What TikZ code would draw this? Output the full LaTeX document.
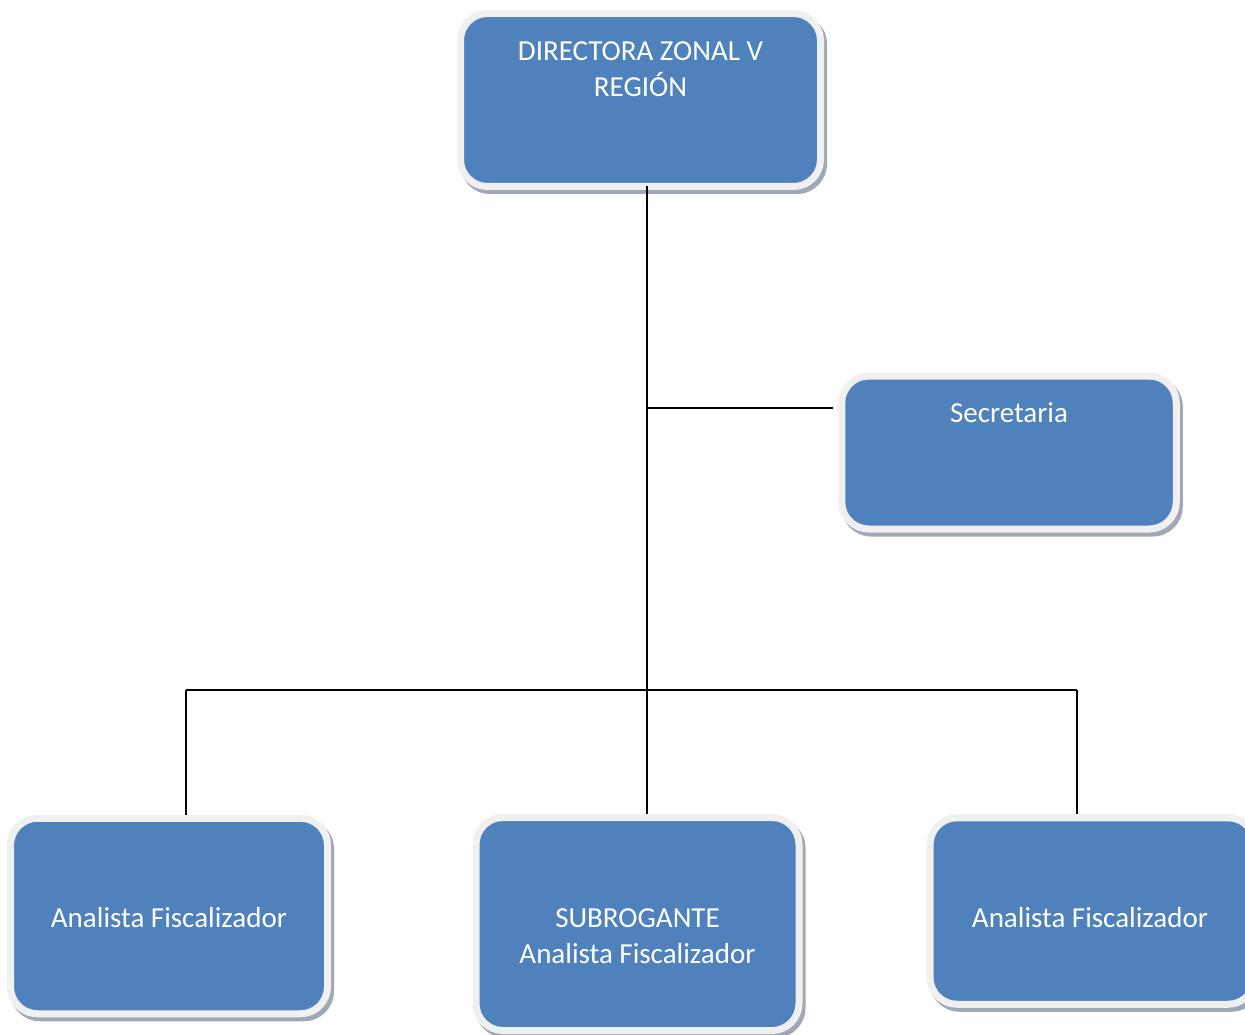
\documentclass[tikz,border=0pt]{standalone}
\usepackage{fontspec}
\setmainfont{Carlito}
\usetikzlibrary{calc,backgrounds}
\pgfdeclarelayer{bottom}
\pgfsetlayers{bottom,background,main}
\definecolor{boxblue}{RGB}{79,129,189}
\definecolor{rimgray}{RGB}{240,240,240}
\definecolor{shadowc}{RGB}{160,168,182}
\tikzset{
  orgbox/.style={draw=rimgray, line width=7pt, fill=boxblue, rounded corners=27pt, inner sep=0pt},
  txt/.style={text=white, font=\fontsize{29}{36}\selectfont, align=center, inner sep=0pt},
  conn/.style={line width=2pt, black}
}
\newcommand{\boxshadow}[1]{%
  \begin{pgfonlayer}{background}
    \fill[shadowc, rounded corners=30pt] ($(#1.north west)+(3,4)$) rectangle ($(#1.south east)+(3,4)$);
  \end{pgfonlayer}}
\begin{document}
\begin{tikzpicture}[x=1pt,y=-1pt]
\useasboundingbox (0,0) rectangle (1245,1035);
\begin{pgfonlayer}{bottom}
\fill[white] (0,0) rectangle (1245,1035);
\end{pgfonlayer}

\node[orgbox, minimum width=360pt, minimum height=173pt,
  label={[txt, yshift=31pt]center:{DIRECTORA ZONAL V\\REGIÓN}}] (top) at (640.5,100) {};
\node[orgbox, minimum width=334.5pt, minimum height=153pt,
  label={[txt, yshift=39.5pt]center:{Secretaria}}] (sec) at (1009,452.5) {};
\node[orgbox, minimum width=317pt, minimum height=195.5pt,
  label={[txt, yshift=-2pt]center:{Analista Fiscalizador}}] (an1) at (169,916) {};
\node[orgbox, minimum width=323pt, minimum height=213pt,
  label={[txt, yshift=-12.5pt]center:{SUBROGANTE\\Analista Fiscalizador}}] (sub) at (637.5,924) {};
\node[orgbox, minimum width=325pt, minimum height=186.5pt,
  label={[txt, yshift=-7pt, xshift=-2.5pt]center:{Analista Fiscalizador}}] (an3) at (1092.5,911) {};

\boxshadow{top}
\boxshadow{sec}
\boxshadow{an1}
\boxshadow{sub}
\boxshadow{an3}

\coordinate (j1) at (647,408);
\coordinate (cl) at (186,690);
\coordinate (cr) at (1077,690);

\draw[conn] (j1 |- 0,186) -- (j1 |- sub.north);
\draw[conn] (j1) -- ($(sec.west |- j1)+(-5,0)$);
\draw[conn] (cl) -- (cr);
\draw[conn] (cl) -- (cl |- an1.north);
\draw[conn] (cr) -- (cr |- an3.north);
\end{tikzpicture}
\end{document}
